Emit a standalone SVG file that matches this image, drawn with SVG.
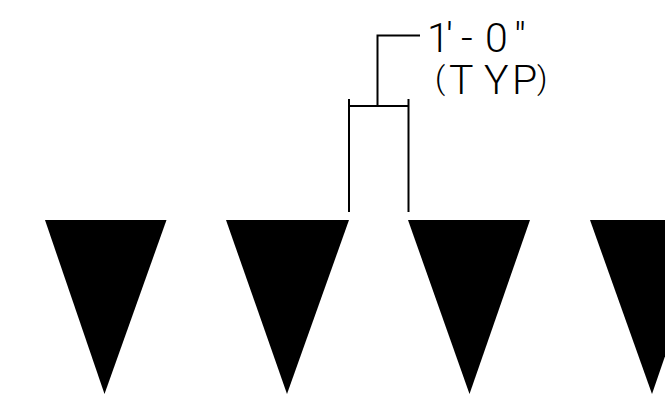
<svg xmlns="http://www.w3.org/2000/svg" width="665" height="398" viewBox="0 0 665 398">
<style>
.tri{fill:#000}
.ln{fill:none;stroke:#000;stroke-width:2}
.lbl{font-family:"Roboto","Liberation Sans",sans-serif;font-weight:300;font-size:41px;fill:#000}
.par{font-size:32px}
</style>
<rect width="665" height="398" fill="#fff"/>
<g id="triangle-1"><polygon class="tri" points="45,220 166.500,220 104.500,394"/></g>
<g id="triangle-2"><polygon class="tri" points="226,220 349,220 287,394"/></g>
<g id="triangle-3"><polygon class="tri" points="408,220 530,220 469.500,394"/></g>
<g id="triangle-4"><polygon class="tri" points="590,220 712,220 652,394"/></g>
<g id="connectors">
<path class="ln" d="M349,99V212M408.500,99V212M349,106H408.500M377.500,106V35.500H420"/>
</g>
<g id="label">
<text class="lbl" x="427 446 461 485 514" y="52">1'-0"</text>
<text class="lbl" y="94"><tspan class="par" x="435" y="89">(</tspan><tspan x="449" y="94">T</tspan><tspan x="484" y="94">Y</tspan><tspan x="512" y="94">P</tspan><tspan class="par" x="537" y="89">)</tspan></text>
</g>
</svg>
